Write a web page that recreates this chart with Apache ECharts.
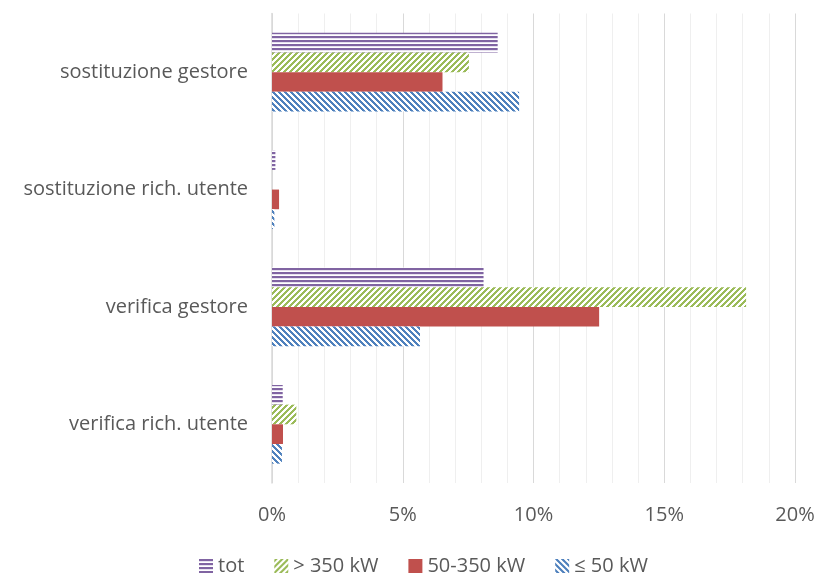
<!DOCTYPE html>
<html>
<head>
<meta charset="utf-8">
<script src="https://cdn.jsdelivr.net/npm/echarts@6/dist/echarts.min.js"></script>
<style>
  html, body { margin: 0; padding: 0; background: #ffffff; }
  #chart { width: 818px; height: 576px; }
</style>
</head>
<body>
<div id="chart"></div>
<script>
// Categories, top to bottom
const categories = ['sostituzione gestore', 'sostituzione rich. utente', 'verifica gestore', 'verifica rich. utente'];

// Series names (legend order)
const seriesNames = ['tot', '> 350 kW', '50-350 kW', '≤ 50 kW'];

// Shares in percent, one value per category
const totValues = [8.63, 0.13, 8.09, 0.41];
const over350Values = [7.53, 0.0, 18.13, 0.93];
const mid50to350Values = [6.52, 0.27, 12.51, 0.42];
const upTo50Values = [9.45, 0.09, 5.66, 0.38];

// Axis ticks
const xTicks = [0, 5, 10, 15, 20];

const FONT = 'Open Sans';
const FONT_SIZE = 20;
const TEXT = '#595959';

// Fill patterns built on small canvases
function makePattern(size, painter) {
  const c = document.createElement('canvas');
  c.width = size; c.height = size;
  const ctx = c.getContext('2d');
  ctx.fillStyle = '#ffffff';
  ctx.fillRect(0, 0, size, size);
  painter(ctx, size);
  return { image: c, repeat: 'repeat' };
}

const purpleLines = makePattern(4, (ctx, s) => {
  ctx.fillStyle = '#8064a2';
  ctx.fillRect(0, 0, s, 2);
  ctx.fillStyle = '#e6e0ee';
  ctx.fillRect(0, 2, s, 1);
});

const greenUp = makePattern(6, (ctx, s) => {
  ctx.fillStyle = '#9bbb59';
  for (let x = 0; x < s; x++) {
    for (let y = 0; y < s; y++) {
      if ((x + y) % s < 3) ctx.fillRect(x, y, 1, 1);
    }
  }
});

const blueDown = makePattern(6, (ctx, s) => {
  ctx.fillStyle = '#4f81bd';
  for (let x = 0; x < s; x++) {
    for (let y = 0; y < s; y++) {
      if (((x - y) % s + s) % s < 3) ctx.fillRect(x, y, 1, 1);
    }
  }
});

const fills = [purpleLines, greenUp, '#c0504d', blueDown];
const valueSets = [totValues, over350Values, mid50to350Values, upTo50Values];

const chart = echarts.init(document.getElementById('chart'), null, { renderer: 'canvas' });

chart.setOption({
  animation: false,
  textStyle: { fontFamily: FONT, color: TEXT },
  grid: { left: 272, right: 23, top: 13.5, bottom: 93, containLabel: false },
  legend: {
    data: seriesNames,
    left: 199,
    top: 556,
    padding: 0,
    itemWidth: 14,
    itemHeight: 14,
    itemGap: 30,
    icon: 'rect',
    textStyle: { fontFamily: FONT, fontSize: FONT_SIZE, color: TEXT }
  },
  xAxis: {
    type: 'value',
    min: xTicks[0],
    max: xTicks[xTicks.length - 1],
    interval: 5,
    axisLine: { show: false },
    axisTick: { show: false },
    minorTick: { show: false, splitNumber: 5 },
    axisLabel: {
      formatter: v => v + '%',
      fontFamily: FONT,
      fontSize: FONT_SIZE,
      color: TEXT,
      margin: 22
    },
    splitLine: { show: true, lineStyle: { color: '#d9d9d9', width: 1 } },
    minorSplitLine: { show: true, lineStyle: { color: '#efefef', width: 1 } }
  },
  yAxis: {
    type: 'category',
    data: categories,
    inverse: true,
    axisLine: { show: true, lineStyle: { color: '#d9d9d9', width: 1.5 } },
    axisTick: { show: false },
    axisLabel: { fontFamily: FONT, fontSize: FONT_SIZE, color: TEXT, margin: 24 }
  },
  series: seriesNames.map((name, i) => ({
    name: name,
    type: 'bar',
    data: valueSets[i],
    barGap: '0%',
    barCategoryGap: '33%',
    itemStyle: { color: fills[i] }
  }))
});
</script>
</body>
</html>
